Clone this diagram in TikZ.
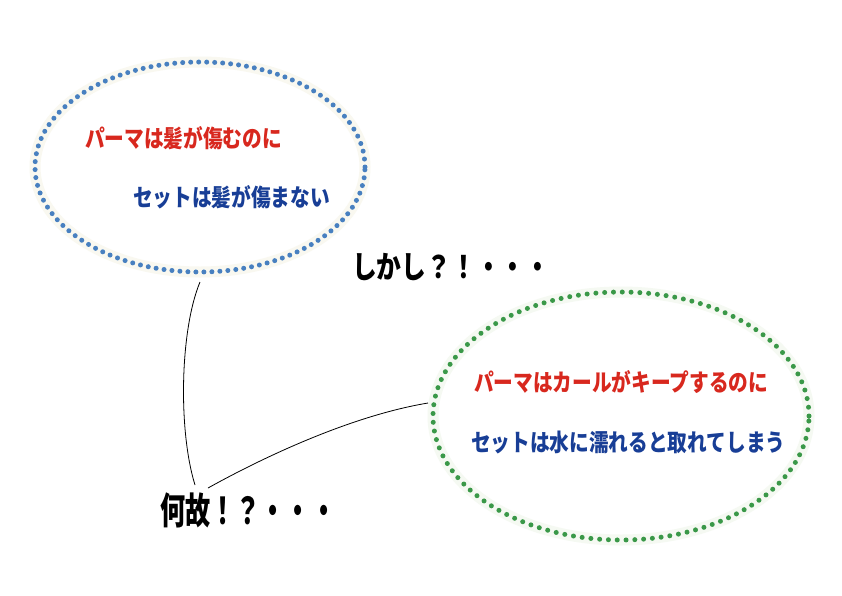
\documentclass[tikz,border=0pt]{standalone}
\usepackage{fontspec}
\newfontfamily\cjk{Noto Sans CJK JP}
\usetikzlibrary{shapes.geometric}
\definecolor{dotblue}{RGB}{72,128,192}
\definecolor{dotgreen}{RGB}{58,152,72}
\definecolor{txtred}{RGB}{216,40,30}
\definecolor{txtblue}{RGB}{24,62,150}
\definecolor{haloblue}{RGB}{249,248,240}
\definecolor{halogreen}{RGB}{245,249,242}
\tikzset{
  bubble/.style={ellipse, line width=5pt, line cap=round, inner sep=0pt},
  redtxt/.style={font=\cjk\bfseries\fontsize{24}{24}\selectfont, text=txtred, xscale=0.82, inner sep=0pt, anchor=west},
  bluetxt/.style={font=\cjk\bfseries\fontsize{24}{24}\selectfont, text=txtblue, xscale=0.82, inner sep=0pt, anchor=west},
  bigtxt/.style={text=black, inner sep=0pt, anchor=west},
  link/.style={draw=black, line width=0.8pt}
}
\begin{document}
\begin{tikzpicture}[x=1pt,y=-1pt]
\useasboundingbox[fill=white] (0,0) rectangle (842,595);
% bubbles
\node[bubble, draw=dotblue, dash pattern=on 0pt off 8.0pt,
      preaction={draw=haloblue, line width=11pt, dash pattern=},
      minimum width=330pt, minimum height=210pt] (b1) at (200,167) {};
\node[bubble, draw=dotgreen, dash pattern=on 0pt off 8.8pt,
      preaction={draw=halogreen, line width=11pt, dash pattern=},
      minimum width=376pt, minimum height=248pt] (b2) at (621,416) {};
% texts
\node[redtxt] (t1) at (85,138) {パーマは髪が傷むのに};
\node[bluetxt] (t2) at (133,197) {セットは髪が傷まない};
\node[redtxt] (t3) at (474,382) {パーマはカールがキープするのに};
\node[bluetxt] (t4) at (471,442) {セットは水に濡れると取れてしまう};
\node[bigtxt, font=\cjk\bfseries\fontsize{31}{31}\selectfont, xscale=0.8] (s1) at (352,267) {しかし？！・・・};
\node[bigtxt, font=\cjk\bfseries\fontsize{37}{37}\selectfont, xscale=0.68] (s2) at (160,510) {何故！？・・・};
% connector ends
\coordinate (c1) at (200,282);
\coordinate (c2) at (195,485);
\coordinate (c3) at (208,488);
\coordinate (c4) at (428,403);
\draw[link] (c1) .. controls (180,330) and (178,430) .. (c2);
\draw[link] (c3) .. controls (262,458) and (350,416) .. (c4);
\end{tikzpicture}
\end{document}
